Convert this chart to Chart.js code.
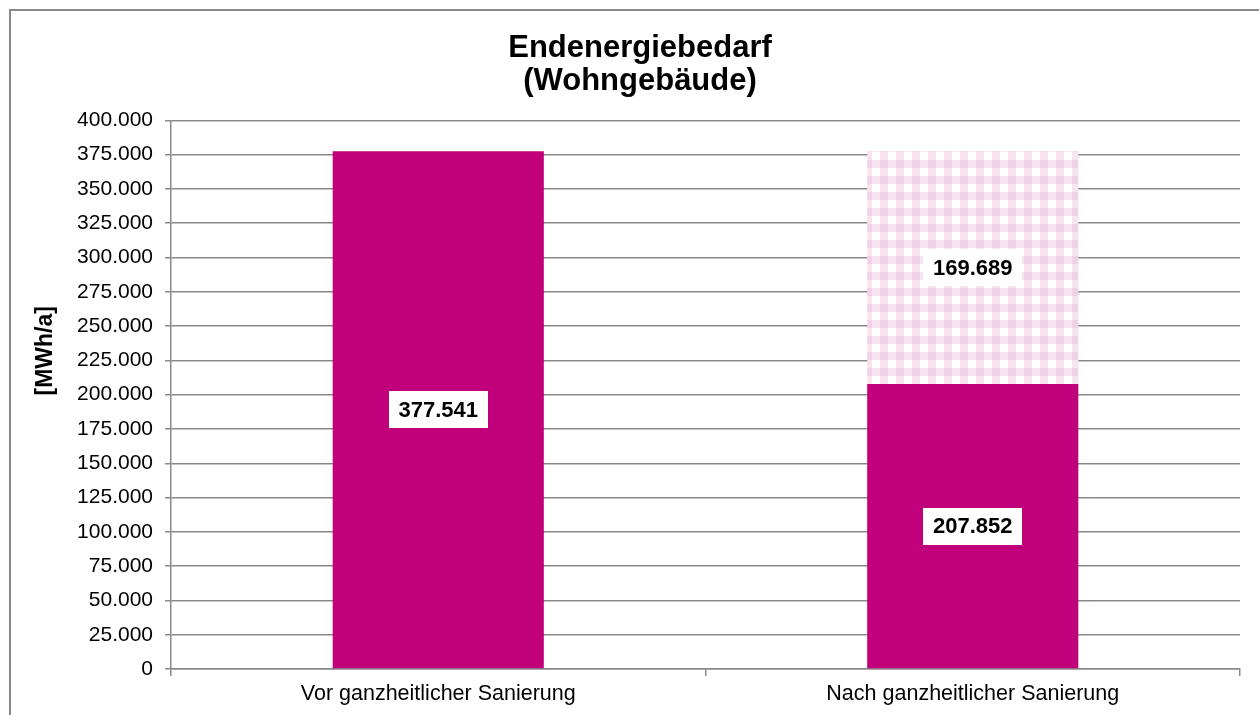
<!DOCTYPE html>
<html>
<head>
<meta charset="utf-8">
<script src="https://cdn.jsdelivr.net/npm/chart.js@4.4.1/dist/chart.umd.min.js"></script>
<style>
  html, body { margin: 0; padding: 0; background: #fff; }
  #wrap { width: 1259px; height: 715px; position: relative; }
</style>
</head>
<body>
<div id="wrap"><canvas id="grafico"></canvas></div>
<script>
// Daten
const kategorien = ['Vor ganzheitlicher Sanierung', 'Nach ganzheitlicher Sanierung'];
const bedarf = [377541, 207852];       // Endenergiebedarf
const einsparung = [null, 169689];     // Einsparung (kariert)
const titel = ['Endenergiebedarf', '(Wohngebäude)'];
const achsenTitel = '[MWh/a]';

const grau = '#898989';
const magenta = '#C1007B';
const schrift = '"Liberation Sans", Arial, sans-serif';

// Zahl mit Tausenderpunkt
function fmt(n) {
    return String(Math.round(n)).replace(/\B(?=(\d{3})+(?!\d))/g, '.');
}

// Karomuster fuer die Einsparung
function karo() {
    const c = document.createElement('canvas');
    c.width = 16; c.height = 16;
    const g = c.getContext('2d');
    g.fillStyle = '#ffffff';
    g.fillRect(0, 0, 16, 16);
    g.fillStyle = '#F8E3F0';
    g.fillRect(0, 0, 8, 16);
    g.fillRect(0, 0, 16, 8);
    g.fillStyle = '#F0D2E7';
    g.fillRect(0, 0, 8, 8);
    return document.getElementById('grafico').getContext('2d').createPattern(c, 'repeat');
}

// Rahmen um das Diagramm
const rahmen = {
    id: 'rahmen',
    beforeDraw(chart) {
        const ctx = chart.ctx;
        ctx.save();
        ctx.strokeStyle = grau;
        ctx.lineWidth = 2;
        ctx.strokeRect(10, 10, chart.width + 20, chart.height + 20);
        ctx.restore();
    }
};

// Achsentitel (etwas oberhalb der Mitte, wie im Original)
const achse = {
    id: 'achse',
    afterDraw(chart) {
        const ctx = chart.ctx;
        const y = chart.scales.y;
        ctx.save();
        ctx.translate(46, y.getPixelForValue(232000));
        ctx.rotate(-Math.PI / 2);
        ctx.font = 'bold 23px ' + schrift;
        ctx.fillStyle = '#000';
        ctx.textAlign = 'center';
        ctx.textBaseline = 'middle';
        ctx.fillText(achsenTitel, 0, 0);
        ctx.restore();
    }
};

// Werte in weissen Kaesten
const werte = {
    id: 'werte',
    afterDatasetsDraw(chart) {
        const ctx = chart.ctx;
        ctx.save();
        ctx.font = 'bold 22px ' + schrift;
        ctx.textAlign = 'center';
        ctx.textBaseline = 'middle';
        chart.data.datasets.forEach((ds, i) => {
            const meta = chart.getDatasetMeta(i);
            meta.data.forEach((bar, j) => {
                const v = ds.data[j];
                if (v == null) return;
                const p = bar.getCenterPoint();
                const txt = fmt(v);
                const w = ctx.measureText(txt).width + 19;
                const h = 37;
                ctx.fillStyle = '#ffffff';
                ctx.fillRect(Math.round(p.x - w / 2), Math.round(p.y - h / 2), Math.round(w), h);
                ctx.fillStyle = '#000000';
                ctx.fillText(txt, p.x, p.y + 1);
            });
        });
        ctx.restore();
    }
};

new Chart(document.getElementById('grafico'), {
    type: 'bar',
    data: {
        labels: kategorien,
        datasets: [
            {
                label: 'Endenergiebedarf',
                data: bedarf,
                backgroundColor: magenta,
                borderWidth: 0,
                categoryPercentage: 1,
                barPercentage: 0.395
            },
            {
                label: 'Einsparung',
                data: einsparung,
                backgroundColor: karo(),
                borderWidth: 0,
                categoryPercentage: 1,
                barPercentage: 0.395
            }
        ]
    },
    options: {
        responsive: true,
        maintainAspectRatio: false,
        animation: false,
        layout: { padding: { left: 21, right: 0, top: 0, bottom: 0 } },
        plugins: {
            legend: { display: false },
            tooltip: { enabled: false },
            title: {
                display: true,
                text: titel,
                color: '#000',
                font: { family: schrift, size: 31, weight: 'bold', lineHeight: 1.07 },
                padding: { top: 32, bottom: 22 }
            }
        },
        scales: {
            x: {
                stacked: true,
                offset: true,
                grid: { offset: true, drawOnChartArea: false, color: grau, lineWidth: 1.5, tickLength: 7 },
                border: { color: grau, width: 1.5 },
                ticks: {
                    color: '#000',
                    padding: 5,
                    font: { family: schrift, size: 21.5 }
                },
                afterFit(scale) { scale.height = 46; }
            },
            y: {
                stacked: true,
                min: 0,
                max: 400000,
                grid: { color: grau, lineWidth: 1.5, tickLength: 6 },
                border: { color: grau, width: 1.5 },
                ticks: {
                    stepSize: 25000,
                    color: '#000',
                    padding: 12,
                    font: { family: schrift, size: 21 },
                    callback: (v) => fmt(v)
                },
                afterFit(scale) { scale.width = 150; }
            },
            rechts: {
                position: 'right',
                display: true,
                grid: { display: false, drawTicks: false },
                border: { display: false },
                ticks: { display: false },
                afterFit(scale) { scale.width = 19; }
            }
        }
    },
    plugins: [rahmen, achse, werte]
});
</script>
</body>
</html>
